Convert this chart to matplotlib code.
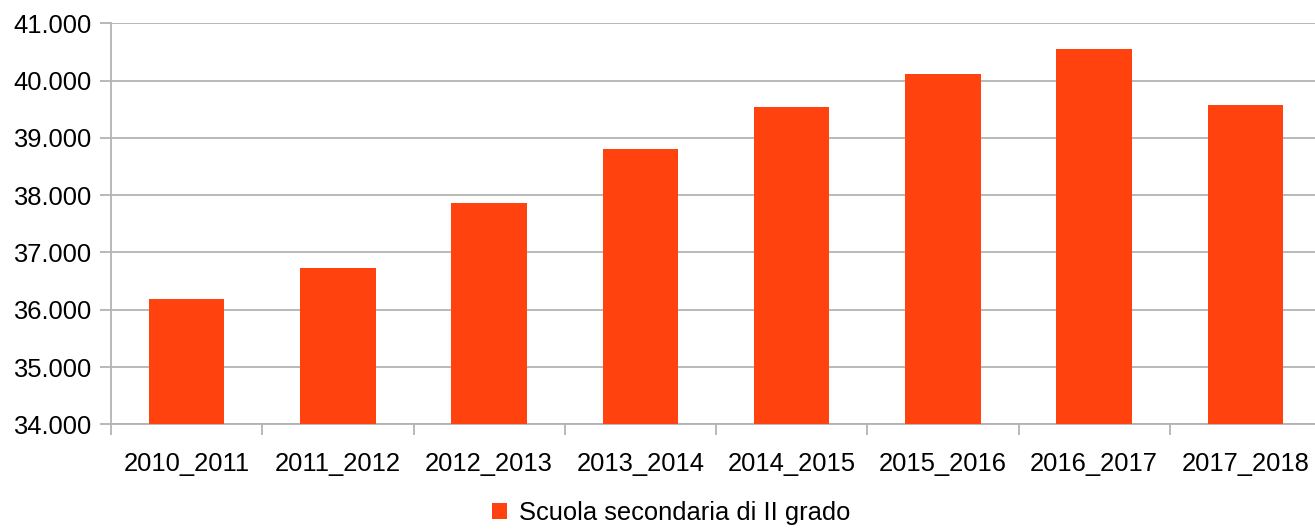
import matplotlib
matplotlib.use("Agg")
import matplotlib.pyplot as plt
from matplotlib.ticker import FuncFormatter, FixedLocator

categories = ["2010_2011", "2011_2012", "2012_2013", "2013_2014",
              "2014_2015", "2015_2016", "2016_2017", "2017_2018"]
values = [36181, 36737, 37860, 38812, 39532, 40111, 40549, 39567]
series_name = "Scuola secondaria di II grado"
y_ticks = [34000, 35000, 36000, 37000, 38000, 39000, 40000, 41000]

plt.rcParams['font.family'] = ['Liberation Sans', 'DejaVu Sans']

fig = plt.figure(figsize=(13.15, 5.29), dpi=100)
W, H = 1315, 529
left, right, top, bottom = 111, 1321, 23.3, 424.3
ax = fig.add_axes([left / W, 1 - bottom / H, (right - left) / W, (bottom - top) / H])

color = "#ff420e"
grid_c = "#b3b3b3"
fs = 18.4
x = list(range(len(categories)))
ax.bar(x, values, width=0.5, color=color, label=series_name, zorder=3)

ax.set_xlim(-0.5, len(categories) - 0.5)
ax.set_ylim(34000, 41000)
ax.set_yticks(y_ticks)
ax.yaxis.set_major_formatter(FuncFormatter(lambda v, p: f"{int(v):,}".replace(",", ".")))
ax.set_xticks(x)
ax.set_xticklabels(categories)
ax.xaxis.set_minor_locator(FixedLocator([i - 0.5 for i in range(len(categories) + 1)]))

ax.grid(axis='y', color=grid_c, linewidth=1.3, zorder=0)
for s in ['top', 'right']:
    ax.spines[s].set_visible(False)
for s in ['left', 'bottom']:
    ax.spines[s].set_color(grid_c)
    ax.spines[s].set_linewidth(1.3)

ax.tick_params(axis='y', length=8, width=1.3, color=grid_c, pad=6, labelsize=fs, labelcolor='black')
ax.tick_params(axis='x', which='major', length=0, pad=20, labelsize=fs, labelcolor='black')
ax.tick_params(axis='x', which='minor', length=8, width=1.3, color=grid_c)

fig.legend(loc='center', bbox_to_anchor=(671 / W, 1 - 513 / H), frameon=False,
           fontsize=fs, handlelength=0.6, handleheight=0.6, handletextpad=0.45,
           borderaxespad=0, borderpad=0)

fig.savefig("out.png", dpi=100)
